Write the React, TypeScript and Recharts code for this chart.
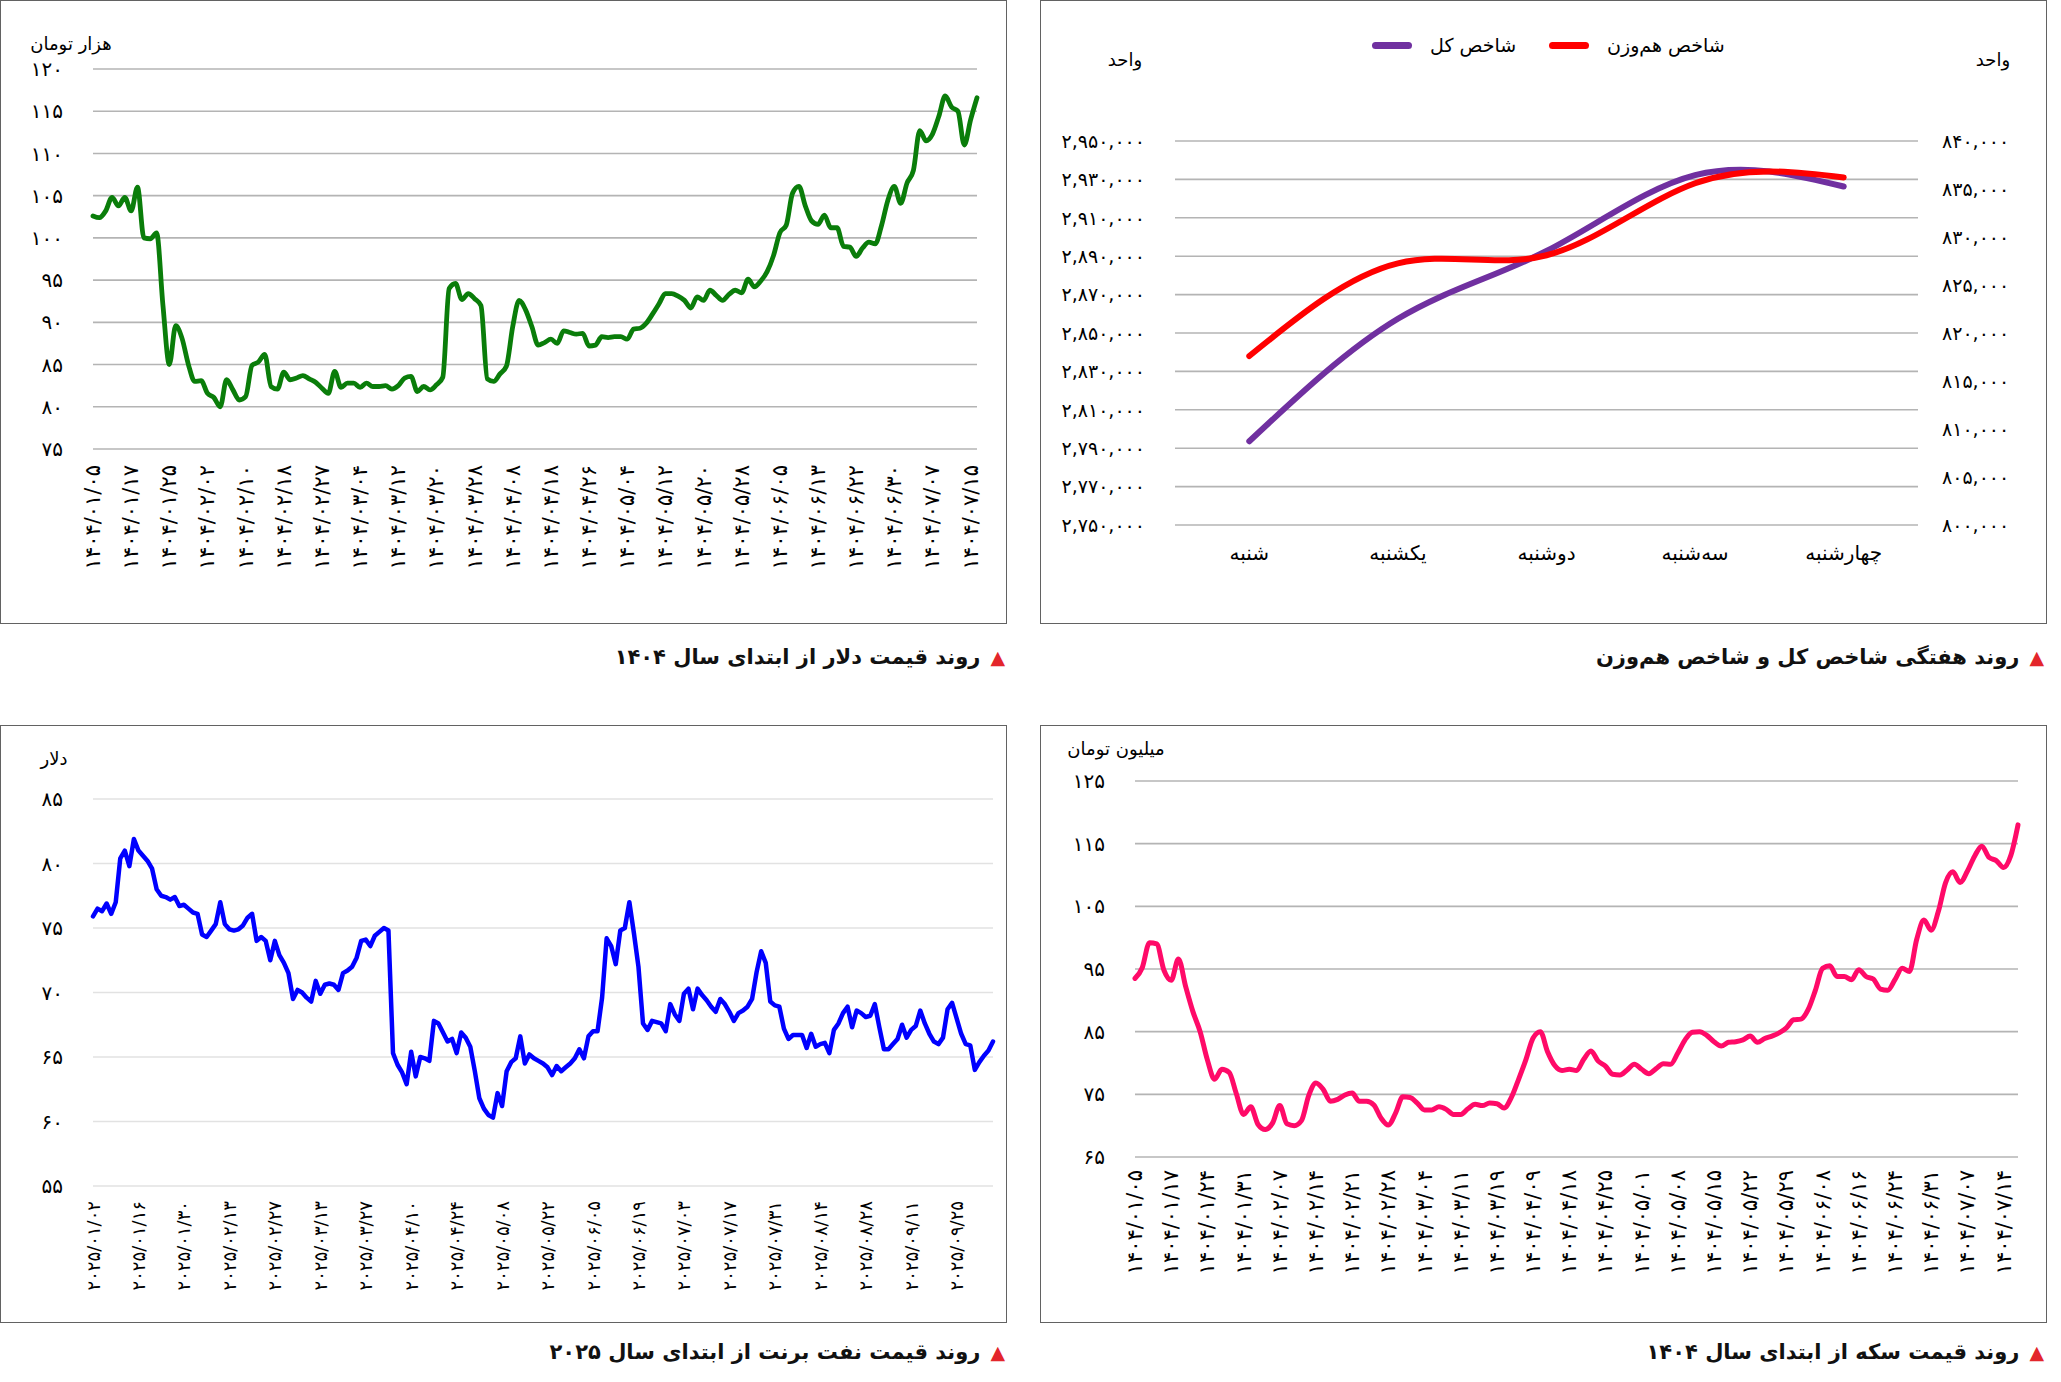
import React from 'react';
import { LineChart, Line, XAxis, YAxis, CartesianGrid } from 'recharts';

const FA_DIGITS = '۰۱۲۳۴۵۶۷۸۹';
const fa = (s: string | number) => String(s).replace(/[0-9]/g, (d) => FA_DIGITS[Number(d)]);
const faNum = (n: number) => fa(n.toLocaleString('en-US'));

const TICK_FONT = '"DejaVu Sans", sans-serif';
const TEXT_FONT = '"DejaVu Sans", sans-serif';

// ---------- Chart 1: dollar (thousand toman) ----------
const dollarTickLabels = ['1404/01/05', '1404/01/17', '1404/01/25', '1404/02/02', '1404/02/10', '1404/02/18', '1404/02/27', '1404/03/04', '1404/03/12', '1404/03/20', '1404/03/28', '1404/04/08', '1404/04/18', '1404/04/26', '1404/05/04', '1404/05/12', '1404/05/20', '1404/05/28', '1404/06/05', '1404/06/13', '1404/06/22', '1404/06/30', '1404/07/07', '1404/07/15'];
const dollarValues = [
  102.6, 102.4, 103.2, 104.8, 103.8, 104.8, 103.2, 106.0, 100.0, 99.9,
  100.6, 92.0, 85.0, 89.6, 88.1, 85.0, 83.0, 83.1, 81.6, 81.1,
  80.0, 83.2, 82.0, 80.8, 81.2, 84.9, 85.3, 86.2, 82.4, 82.1,
  84.1, 83.2, 83.4, 83.7, 83.3, 82.9, 82.2, 81.6, 84.2, 82.3,
  82.8, 82.8, 82.3, 82.8, 82.4, 82.4, 82.5, 82.1, 82.5, 83.4,
  83.6, 81.8, 82.4, 82.0, 82.6, 83.5, 94.0, 94.6, 92.7, 93.4,
  92.8, 92.0, 83.3, 83.0, 83.9, 84.8, 89.5, 92.6, 91.5, 89.5,
  87.3, 87.6, 88.0, 87.5, 89.0, 88.8, 88.6, 88.7, 87.2, 87.3,
  88.3, 88.2, 88.3, 88.3, 88.0, 89.2, 89.3, 89.9, 91.0, 92.2,
  93.4, 93.4, 93.1, 92.6, 91.7, 93.0, 92.6, 93.8, 93.2, 92.6,
  93.3, 93.8, 93.5, 95.1, 94.2, 94.9, 96.0, 97.9, 100.6, 101.5,
  105.3, 106.1, 103.8, 102.0, 101.6, 102.7, 101.2, 101.2, 99.0, 98.9,
  97.8, 98.8, 99.5, 99.3, 101.5, 104.5, 106.1, 104.1, 106.5, 108.0,
  112.7, 111.5, 112.3, 114.4, 116.8, 115.5, 115.0, 111.0, 114.0, 116.6,
];
const dollarYTicks = [75, 80, 85, 90, 95, 100, 105, 110, 115, 120];

// ---------- Chart 2: weekly indices ----------
const weekDays = ['شنبه', 'یکشنبه', 'دوشنبه', 'سه‌شنبه', 'چهارشنبه'];
const totalIndex = [2793600, 2857400, 2892700, 2932200, 2926300];
const equalWeightIndex = [817600, 827250, 828100, 835600, 836200];
const leftTicks = [2750000, 2770000, 2790000, 2810000, 2830000, 2850000, 2870000, 2890000, 2910000, 2930000, 2950000];
const rightTicks = [800000, 805000, 810000, 815000, 820000, 825000, 830000, 835000, 840000];

// ---------- Chart 3: Brent (USD) ----------
const brentTickLabels = ['2025/01/02', '2025/01/16', '2025/01/30', '2025/02/13', '2025/02/27', '2025/03/13', '2025/03/27', '2025/04/10', '2025/04/24', '2025/05/08', '2025/05/22', '2025/06/05', '2025/06/19', '2025/07/03', '2025/07/17', '2025/07/31', '2025/08/14', '2025/08/28', '2025/09/11', '2025/09/25'];
const brentValues = [
  75.9, 76.5, 76.3, 76.9, 76.1, 77.0, 80.4, 81.0, 79.8, 81.9,
  81.0, 80.6, 80.2, 79.6, 78.0, 77.5, 77.4, 77.2, 77.4, 76.7,
  76.8, 76.5, 76.2, 76.1, 74.5, 74.3, 74.8, 75.3, 77.0, 75.3,
  74.9, 74.8, 74.9, 75.2, 75.8, 76.1, 74.0, 74.3, 74.0, 72.5,
  74.0, 72.9, 72.3, 71.5, 69.5, 70.2, 70.0, 69.6, 69.3, 70.9,
  69.9, 70.6, 70.7, 70.6, 70.2, 71.5, 71.7, 72.0, 72.7, 74.0,
  74.1, 73.6, 74.4, 74.7, 75.0, 74.8, 65.3, 64.4, 63.8, 62.9,
  65.4, 63.5, 65.0, 64.9, 64.7, 67.8, 67.6, 66.9, 66.2, 66.4,
  65.3, 66.9, 66.5, 65.8, 63.9, 61.8, 61.0, 60.5, 60.3, 62.2,
  61.2, 63.9, 64.6, 64.9, 66.6, 64.5, 65.2, 64.9, 64.7, 64.5,
  64.2, 63.6, 64.3, 63.9, 64.2, 64.5, 64.9, 65.6, 64.9, 66.6,
  67.0, 67.0, 69.6, 74.2, 73.6, 72.2, 74.8, 75.0, 77.0, 74.6,
  72.0, 67.6, 67.1, 67.8, 67.7, 67.6, 67.0, 69.1, 68.3, 67.8,
  69.9, 70.3, 68.7, 70.3, 69.8, 69.4, 68.9, 68.5, 69.5, 69.1,
  68.5, 67.8, 68.4, 68.6, 68.9, 69.5, 71.6, 73.2, 72.3, 69.3,
  69.0, 68.9, 67.2, 66.4, 66.7, 66.7, 66.7, 65.7, 66.8, 65.8,
  66.0, 66.1, 65.3, 67.1, 67.6, 68.4, 68.9, 67.3, 68.6, 68.4,
  68.1, 68.2, 69.1, 67.3, 65.6, 65.6, 66.0, 66.4, 67.5, 66.5,
  67.1, 67.4, 68.6, 67.6, 66.8, 66.2, 66.0, 66.5, 68.7, 69.2,
  68.0, 66.8, 66.0, 65.9, 64.0, 64.6, 65.1, 65.5, 66.2,
];
const brentYTicks = [55, 60, 65, 70, 75, 80, 85];

// ---------- Chart 4: gold coin (million toman) ----------
const coinTickLabels = ['1404/01/05', '1404/01/17', '1404/01/24', '1404/01/31', '1404/02/07', '1404/02/14', '1404/02/21', '1404/02/28', '1404/03/04', '1404/03/11', '1404/03/19', '1404/04/09', '1404/04/18', '1404/04/25', '1404/05/01', '1404/05/08', '1404/05/15', '1404/05/22', '1404/05/29', '1404/06/08', '1404/06/16', '1404/06/24', '1404/06/31', '1404/07/07', '1404/07/14'];
const coinValues = [
  93.5, 95.2, 99.2, 99.0, 94.8, 93.2, 96.6, 92.2, 88.2, 85.0,
  80.5, 77.4, 79.0, 78.5, 75.1, 71.8, 73.0, 70.2, 69.4, 70.4,
  73.2, 70.3, 70.0, 70.8, 74.8, 76.8, 75.8, 73.9, 74.2, 74.9,
  75.2, 73.9, 73.9, 73.3, 71.2, 70.1, 72.0, 74.6, 74.5, 73.6,
  72.5, 72.5, 73.0, 72.6, 71.8, 71.8, 72.7, 73.4, 73.2, 73.6,
  73.5, 72.8, 74.5, 77.4, 80.5, 84.0, 85.0, 81.8, 79.6, 78.8,
  79.0, 78.8, 80.6, 81.9, 80.3, 79.5, 78.2, 78.1, 78.9, 79.8,
  79.0, 78.3, 79.1, 79.9, 79.8, 81.6, 83.7, 84.9, 85.0, 84.4,
  83.4, 82.7, 83.3, 83.4, 83.7, 84.3, 83.3, 83.9, 84.3, 84.8,
  85.6, 86.9, 87.0, 88.5, 91.6, 95.1, 95.5, 93.8, 93.8, 93.3,
  94.9, 93.8, 93.4, 91.8, 91.6, 93.3, 95.1, 94.6, 99.7, 102.8,
  101.2, 104.2, 108.8, 110.5, 108.8, 110.6, 113.0, 114.6, 112.8, 112.3,
  111.2, 113.1, 118.0,
];
const coinYTicks = [65, 75, 85, 95, 105, 115, 125];

// ---------- helpers ----------
const toRows = (values: number[]) => values.map((v, i) => ({ i, v }));
const tickIndices = (count: number, step: number) => Array.from({ length: count }, (_, k) => k * step);

const RotatedTick = (props: any) => {
  const { x, y, payload, labels, step, fontSize, spacing } = props;
  const label = labels[Math.round(payload.value / step)] ?? '';
  return (
    <text
      x={x}
      y={y}
      transform={`rotate(-90, ${x}, ${y})`}
      textAnchor="end"
      dominantBaseline="central"
      fill="#000"
      fontSize={fontSize}
      fontFamily={TICK_FONT}
      letterSpacing={spacing}
    >
      {fa(label)}
    </text>
  );
};

type TSProps = {
  left: number; top: number; width: number; height: number;
  plotLeft: number; plotRight: number; plotTop: number; plotBottom: number;
  values: number[]; yDomain: [number, number]; yTicks: number[];
  labels: string[]; step: number; color: string; strokeWidth: number;
  gridColor: string; curve: any; xLabelGap: number;
  xFont: number; xSpacing: number; yFont: number;
};

const TimeSeries = (p: TSProps) => {
  const data = toRows(p.values);
  return (
    <div style={{ position: 'absolute', left: p.left, top: p.top, width: p.width, height: p.height }}>
      <LineChart
        width={p.width}
        height={p.height}
        data={data}
        margin={{ top: p.plotTop, right: p.width - p.plotRight, bottom: 0, left: 0 }}
      >
        <CartesianGrid vertical={false} stroke={p.gridColor} strokeWidth={1.6} />
        <XAxis
          dataKey="i"
          type="number"
          domain={[0, p.values.length - 1]}
          ticks={tickIndices(p.labels.length, p.step)}
          interval={0}
          height={p.height - p.plotBottom}
          axisLine={false}
          tickLine={false}
          tickSize={0}
          tickMargin={p.xLabelGap}
          tick={<RotatedTick labels={p.labels} step={p.step} fontSize={p.xFont} spacing={p.xSpacing} />}
        />
        <YAxis
          domain={p.yDomain}
          ticks={p.yTicks}
          interval={0}
          width={p.plotLeft}
          axisLine={false}
          tickLine={false}
          tickSize={6}
          tickMargin={24}
          tick={{ fill: '#000', fontSize: p.yFont, fontFamily: TICK_FONT }}
          tickFormatter={(v: number) => fa(v)}
        />
        <Line
          dataKey="v"
          type={p.curve}
          stroke={p.color}
          strokeWidth={p.strokeWidth}
          strokeLinejoin="round"
          strokeLinecap="round"
          dot={false}
          activeDot={false}
          isAnimationActive={false}
        />
      </LineChart>
    </div>
  );
};

const Panel = ({ left, top, width, height }: { left: number; top: number; width: number; height: number }) => (
  <div style={{ position: 'absolute', left, top, width, height, border: '1.5px solid #626262', boxSizing: 'border-box' }} />
);

const TextAt = ({ x, y, children, size = 18, weight = 400 }: any) => (
  <div
    dir="rtl"
    style={{
      position: 'absolute', left: x, top: y, transform: 'translate(-50%, -50%)',
      fontFamily: TEXT_FONT, fontSize: size, fontWeight: weight, whiteSpace: 'nowrap', color: '#000',
    }}
  >
    {children}
  </div>
);

const Caption = ({ right, y, text }: { right: number; y: number; text: string }) => (
  <div
    dir="rtl"
    style={{
      position: 'absolute', right: 2061 - right, top: y, transform: 'translateY(-50%)',
      display: 'flex', alignItems: 'center', gap: 10, whiteSpace: 'nowrap',
      fontFamily: TEXT_FONT, fontSize: 21, fontWeight: 700, color: '#111',
    }}
  >
    <span style={{ color: '#e3262b', fontSize: 19 }}>▲</span>
    <span>{text}</span>
  </div>
);

const WeeklyChart = () => {
  const data = weekDays.map((d, i) => ({ i, total: totalIndex[i], equal: equalWeightIndex[i] }));
  const W = 1006;
  const H = 623;
  const plotLeft = 135;
  const plotRight = 878;
  const plotTop = 141;
  const plotBottom = 525;
  return (
    <div style={{ position: 'absolute', left: 1040, top: 0, width: W, height: H }}>
      <LineChart width={W} height={H} data={data} margin={{ top: plotTop, right: 0, bottom: 0, left: 0 }}>
        <CartesianGrid vertical={false} stroke="#b4b4b4" strokeWidth={1.6} yAxisId="left" />
        <XAxis
          dataKey="i"
          type="number"
          domain={[-0.5, 4.5]}
          ticks={[0, 1, 2, 3, 4]}
          interval={0}
          height={H - plotBottom}
          axisLine={false}
          tickLine={false}
          tickSize={6}
          tickMargin={15}
          tick={{ fill: '#000', fontSize: 20, fontFamily: TEXT_FONT }}
          tickFormatter={(v: number) => weekDays[v] ?? ''}
        />
        <YAxis
          yAxisId="left"
          orientation="left"
          domain={[2750000, 2950000]}
          ticks={leftTicks}
          interval={0}
          width={plotLeft}
          axisLine={false}
          tickLine={false}
          tickSize={6}
          tickMargin={24}
          tick={{ fill: '#000', fontSize: 19, fontFamily: TICK_FONT }}
          tickFormatter={(v: number) => faNum(v)}
        />
        <YAxis
          yAxisId="right"
          orientation="right"
          domain={[800000, 840000]}
          ticks={rightTicks}
          interval={0}
          width={W - plotRight}
          axisLine={false}
          tickLine={false}
          tickSize={6}
          tickMargin={18}
          tick={{ fill: '#000', fontSize: 19, fontFamily: TICK_FONT }}
          tickFormatter={(v: number) => faNum(v)}
        />
        <Line yAxisId="left" dataKey="total" type="natural" stroke="#7030a0" strokeWidth={6} strokeLinecap="round" dot={false} activeDot={false} isAnimationActive={false} />
        <Line yAxisId="right" dataKey="equal" type="natural" stroke="#ff0000" strokeWidth={6} strokeLinecap="round" dot={false} activeDot={false} isAnimationActive={false} />
      </LineChart>
    </div>
  );
};

const LegendItem = ({ x, color, label }: { x: number; color: string; label: string }) => (
  <div style={{ position: 'absolute', left: x, top: 45, transform: 'translateY(-50%)', display: 'flex', alignItems: 'center', gap: 18 }}>
    <div style={{ width: 40, height: 7, borderRadius: 4, background: color }} />
    <span dir="rtl" style={{ fontFamily: TEXT_FONT, fontSize: 19, whiteSpace: 'nowrap' }}>{label}</span>
  </div>
);

export default function App() {
  return (
    <div style={{ position: 'absolute', left: 0, top: 0, width: 2061, height: 1382, background: '#fff', overflow: 'hidden' }}>
      {/* Panel borders */}
      <Panel left={0} top={0} width={1007} height={624} />
      <Panel left={1040} top={0} width={1007} height={624} />
      <Panel left={0} top={725} width={1007} height={598} />
      <Panel left={1040} top={725} width={1007} height={598} />

      {/* Chart 1: dollar */}
      <TimeSeries
        left={0} top={0} width={1006} height={623}
        plotLeft={93} plotRight={977} plotTop={69} plotBottom={449}
        values={dollarValues} yDomain={[75, 120]} yTicks={dollarYTicks}
        labels={dollarTickLabels} step={6} color="#0a7d0a" strokeWidth={4.8}
        gridColor="#b4b4b4" curve="monotone" xLabelGap={16}
        xFont={21} xSpacing={2} yFont={20}
      />
      <TextAt x={71} y={43}>هزار تومان</TextAt>
      <Caption right={1005} y={657} text="روند قیمت دلار از ابتدای سال ۱۴۰۴" />

      {/* Chart 2: weekly indices */}
      <WeeklyChart />
      <LegendItem x={1372} color="#7030a0" label="شاخص کل" />
      <LegendItem x={1549} color="#ff0000" label="شاخص هم‌وزن" />
      <TextAt x={1125} y={59}>واحد</TextAt>
      <TextAt x={1993} y={59}>واحد</TextAt>
      <Caption right={2044} y={657} text="روند هفتگی شاخص کل و شاخص هم‌وزن" />

      {/* Chart 3: Brent */}
      <TimeSeries
        left={0} top={725} width={1006} height={597}
        plotLeft={93} plotRight={993} plotTop={74} plotBottom={461}
        values={brentValues} yDomain={[55, 85]} yTicks={brentYTicks}
        labels={brentTickLabels} step={10} color="#0000ff" strokeWidth={4.5}
        gridColor="#e2e2e2" curve="linear" xLabelGap={15}
        xFont={18} xSpacing={0.5} yFont={20}
      />
      <TextAt x={54} y={758}>دلار</TextAt>
      <Caption right={1005} y={1352} text="روند قیمت نفت برنت از ابتدای سال ۲۰۲۵" />

      {/* Chart 4: coin */}
      <TimeSeries
        left={1040} top={725} width={1006} height={597}
        plotLeft={95} plotRight={978} plotTop={56} plotBottom={432}
        values={coinValues} yDomain={[65, 125]} yTicks={coinYTicks}
        labels={coinTickLabels} step={5} color="#ff0a68" strokeWidth={5}
        gridColor="#b4b4b4" curve="monotone" xLabelGap={13}
        xFont={21} xSpacing={3} yFont={20}
      />
      <TextAt x={1116} y={748}>میلیون تومان</TextAt>
      <Caption right={2044} y={1352} text="روند قیمت سکه از ابتدای سال ۱۴۰۴" />
    </div>
  );
}
